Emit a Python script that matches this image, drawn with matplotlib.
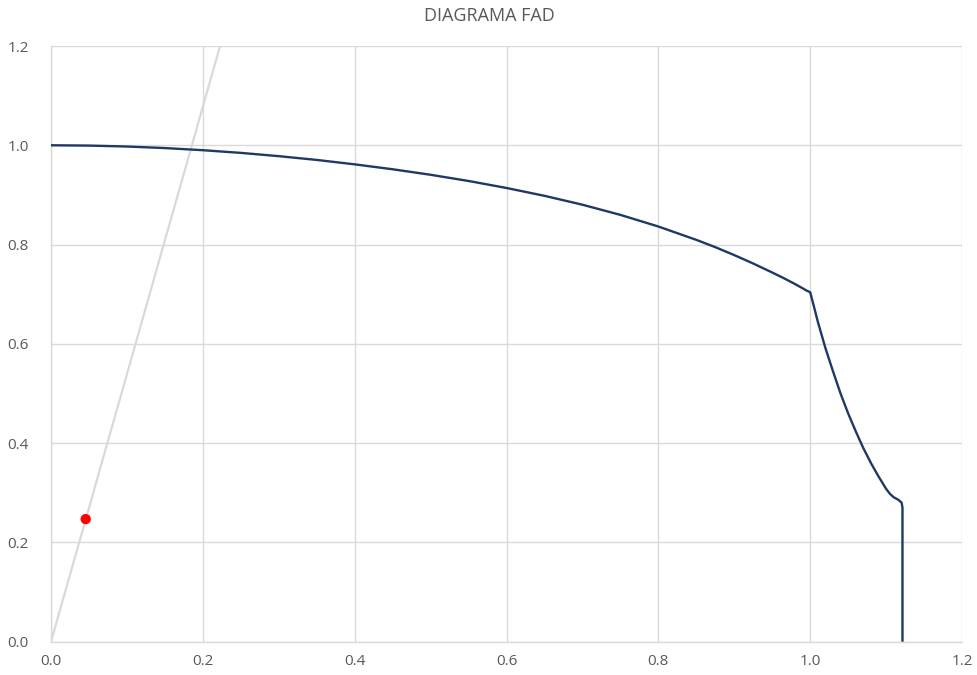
import matplotlib
matplotlib.use("Agg")
import matplotlib.pyplot as plt

# FAD curve (Lr, Kr)
lr_curve = [0.0, 0.05, 0.10, 0.15, 0.20, 0.25, 0.30, 0.35, 0.40, 0.45, 0.50, 0.55,
            0.60, 0.65, 0.70, 0.75, 0.80, 0.85, 0.875, 0.90, 0.925, 0.95, 0.965,
            0.98, 0.99, 0.995, 1.0,
            1.005, 1.01, 1.02, 1.03, 1.04, 1.05, 1.06, 1.07, 1.08, 1.09, 1.10,
            1.105, 1.11, 1.116, 1.1205, 1.1216, 1.1216]
kr_curve = [1.0, 0.9994, 0.9975, 0.9944, 0.9901, 0.9847, 0.9781, 0.9705, 0.9616,
            0.9517, 0.9406, 0.9281, 0.9140, 0.8982, 0.8803, 0.8598, 0.8364, 0.8095,
            0.7948, 0.7788, 0.7618, 0.7437, 0.7325,
            0.7205, 0.7120, 0.7075, 0.704,
            0.675, 0.645, 0.592, 0.545, 0.500, 0.460, 0.424, 0.390, 0.360, 0.333,
            0.308, 0.298, 0.291, 0.286, 0.280, 0.270, 0.0]

# Load line (grey) from origin
load_x = [0.0, 0.2227]
load_y = [0.0, 1.2]

# Assessment point
pt_x = [0.0457]
pt_y = [0.247]

x_ticks = [0.0, 0.2, 0.4, 0.6, 0.8, 1.0, 1.2]
y_ticks = [0.0, 0.2, 0.4, 0.6, 0.8, 1.0, 1.2]

plt.rcParams['font.family'] = ['Open Sans', 'DejaVu Sans']

fig = plt.figure(figsize=(9.78, 6.75), dpi=100)
ax = fig.add_axes([51/978, 1 - 641.7/675, (962-51)/978, (641.7-46)/675])

grid_c = '#D9D9D9'
text_c = '#595959'

ax.plot(load_x, load_y, color=grid_c, lw=1.6, zorder=2, clip_on=True)
ax.plot(lr_curve, kr_curve, color='#203864', lw=1.7, zorder=3,
        solid_joinstyle='round', solid_capstyle='butt')
ax.scatter(pt_x, pt_y, s=55, color='#FF0000', zorder=4, edgecolors='none')

ax.set_xlim(0, 1.2)
ax.set_ylim(0, 1.2)
ax.set_xticks(x_ticks)
ax.set_yticks(y_ticks)
ax.set_xticklabels([f"{v:.1f}" for v in x_ticks])
ax.set_yticklabels([f"{v:.1f}" for v in y_ticks])
ax.grid(True, color=grid_c, lw=1.0, zorder=0)
ax.set_axisbelow(True)
for s in ['top', 'right']:
    ax.spines[s].set_visible(False)
for s in ['left', 'bottom']:
    ax.spines[s].set_color(grid_c)
    ax.spines[s].set_linewidth(1.0)
ax.tick_params(axis='both', length=0, labelsize=11, labelcolor=text_c)
ax.tick_params(axis='x', pad=9)
ax.tick_params(axis='y', pad=16)

fig.text(0.5, 1 - 16/675, 'DIAGRAMA FAD', ha='center', va='center',
         fontsize=13, color=text_c)

fig.savefig('out.png', dpi=100, facecolor='white')
